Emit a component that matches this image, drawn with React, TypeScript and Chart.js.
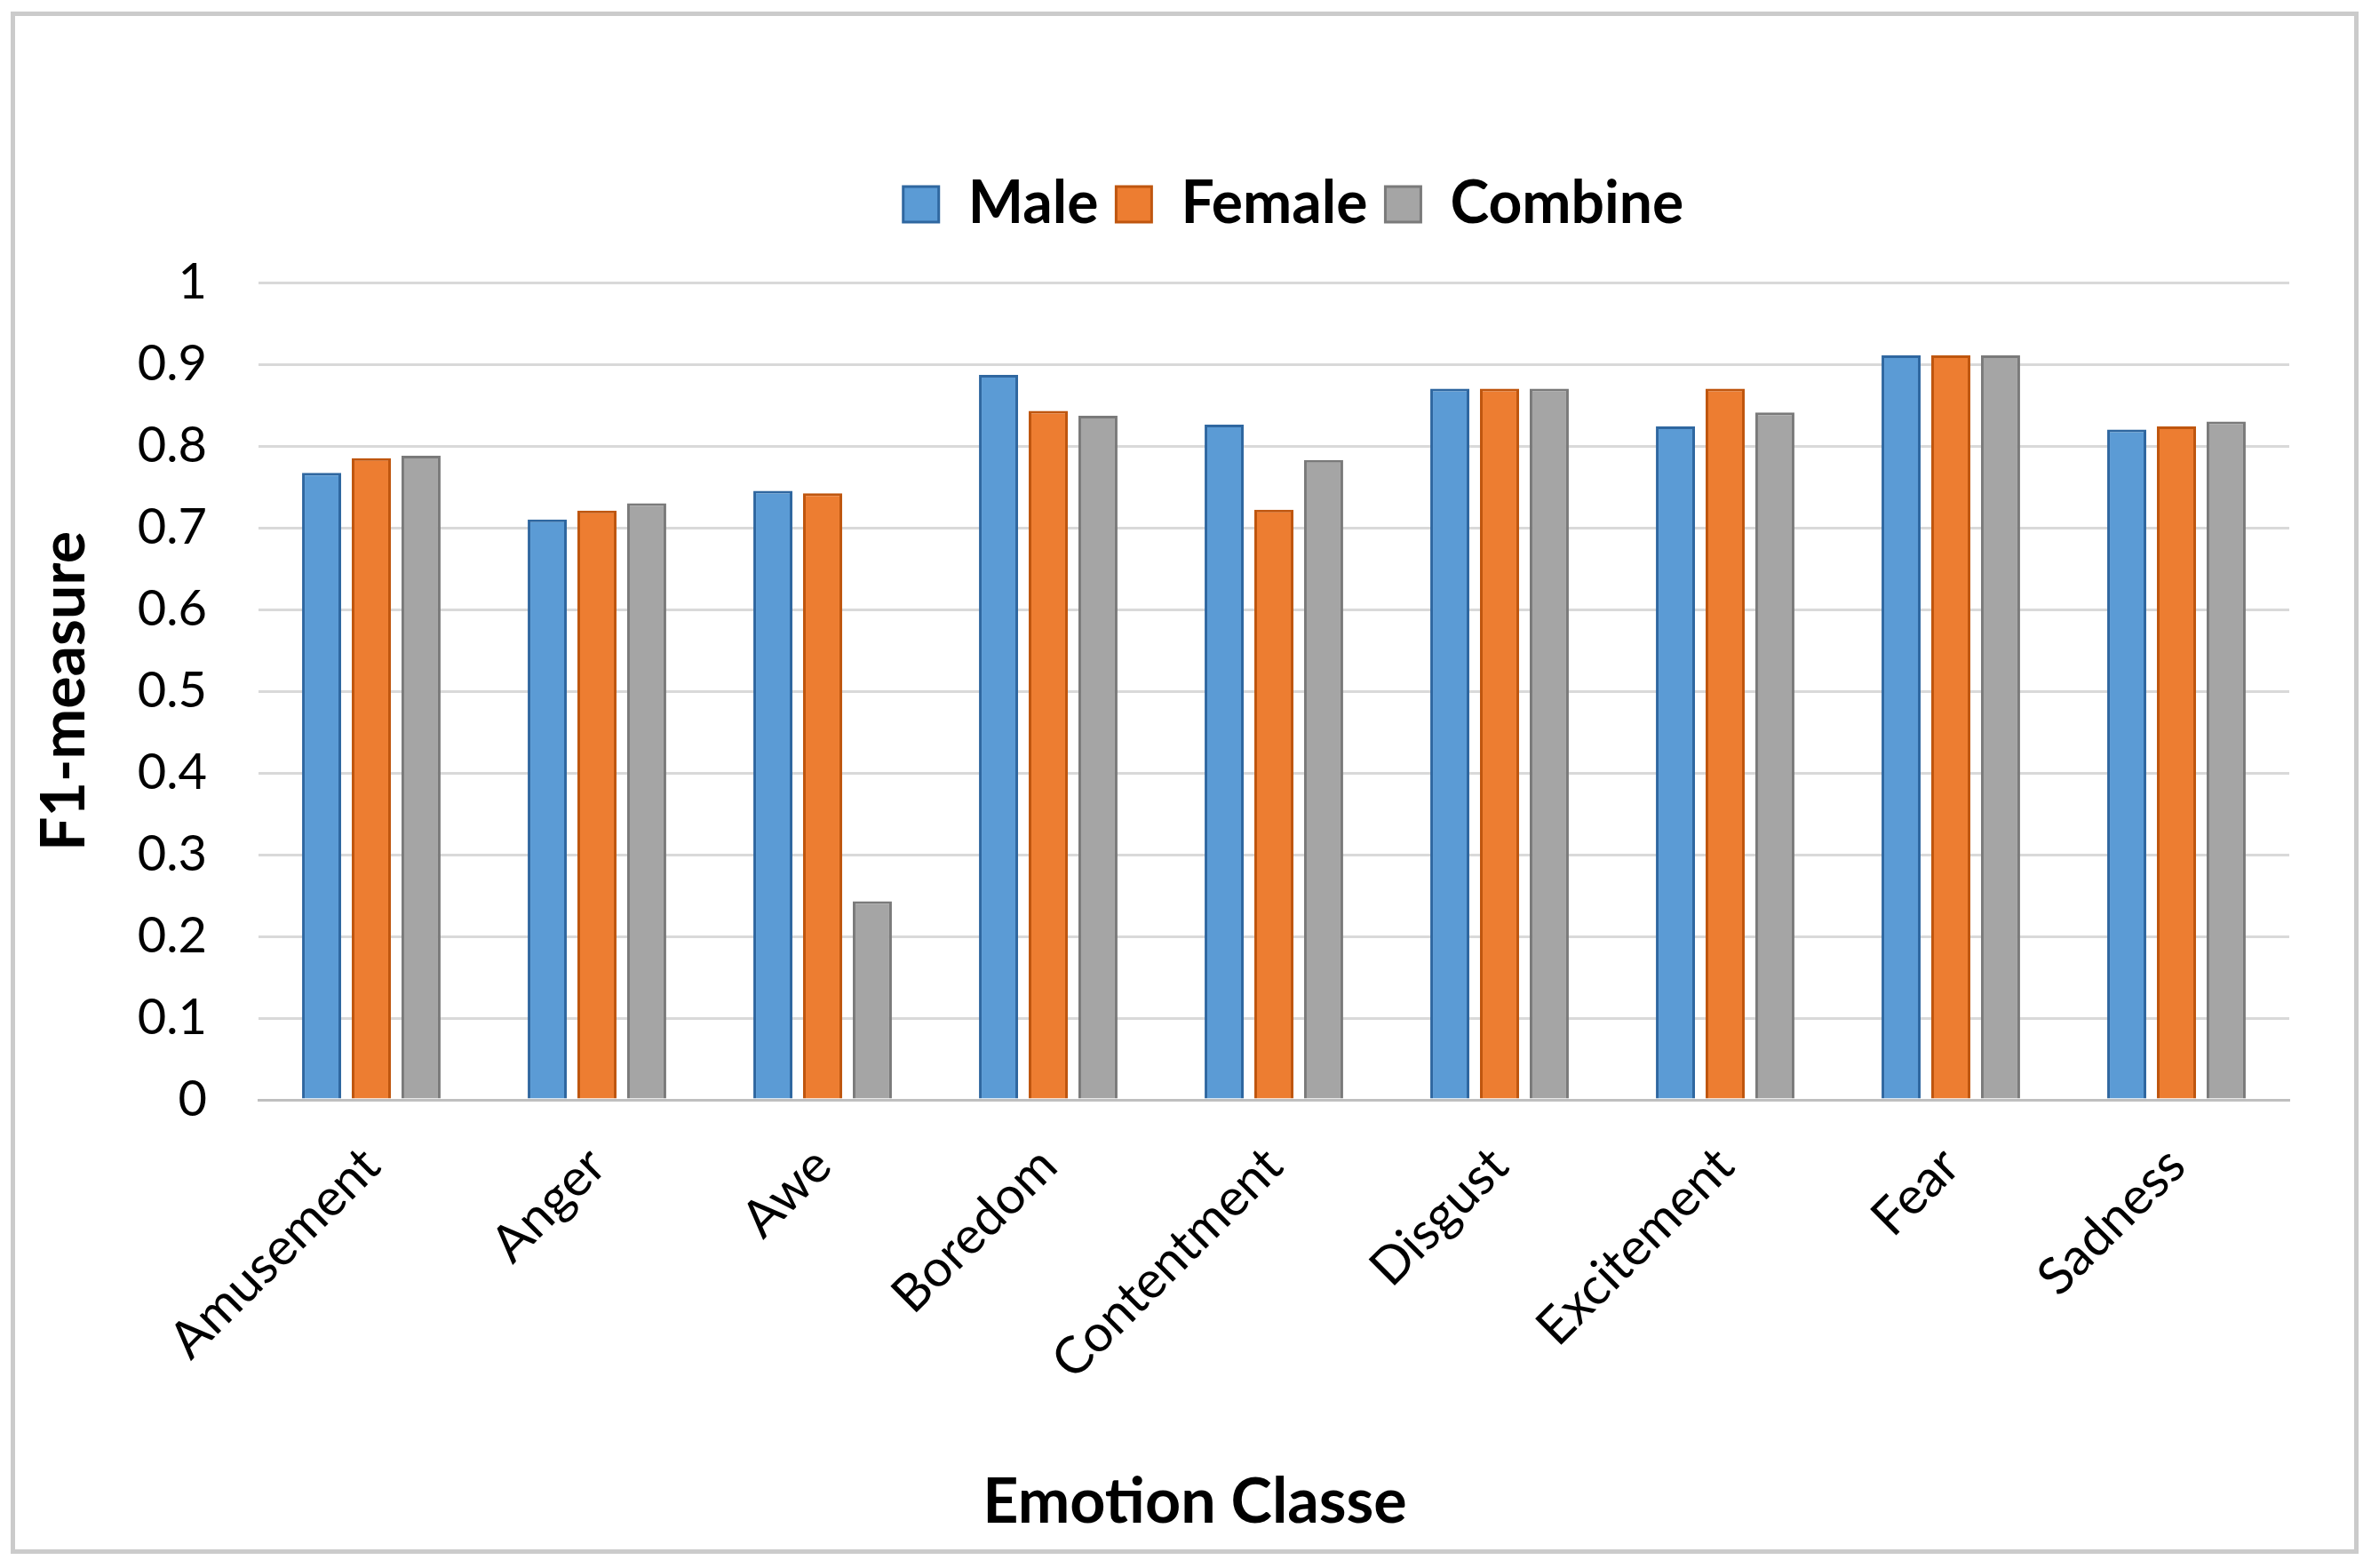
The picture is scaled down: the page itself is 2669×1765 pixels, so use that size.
import React, { useEffect, useRef } from "react";
import { Chart, registerables } from "chart.js";

Chart.register(...registerables);

const categories = ["Amusement", "Anger", "Awe", "Boredom", "Contentment", "Disgust", "Excitement", "Fear", "Sadness"];
const maleValues = [0.767, 0.710, 0.745, 0.887, 0.826, 0.870, 0.824, 0.911, 0.820];
const femaleValues = [0.785, 0.721, 0.742, 0.843, 0.722, 0.870, 0.870, 0.911, 0.824];
const combineValues = [0.788, 0.730, 0.243, 0.837, 0.783, 0.870, 0.841, 0.911, 0.830];
const seriesNames = ["Male", "Female", "Combine"];
const yTickLabels = ["0", "0.1", "0.2", "0.3", "0.4", "0.5", "0.6", "0.7", "0.8", "0.9", "1"];
const xAxisTitle = "Emotion Classe";
const yAxisTitle = "F1-measure";

const W = 2669;
const H = 1765;

const framePlugin = {
  id: "frame",
  beforeDraw(chart: any) {
    const ctx = chart.ctx;
    ctx.save();
    ctx.fillStyle = "#ffffff";
    ctx.fillRect(0, 0, chart.width, chart.height);
    ctx.strokeStyle = "#CBCBCB";
    ctx.lineWidth = 5;
    ctx.strokeRect(14.5, 15.5, 2638, 1731);
    ctx.restore();
  },
  afterLayout(chart: any) {
    const lg = chart.legend;
    if (lg) {
      const dx = 1456 - (lg.left + lg.right) / 2;
      lg.left += dx;
      lg.right += dx;
      lg.top += -45;
      lg.bottom += -45;
    }
    const tb = chart.titleBlock;
    if (tb) {
      const dx2 = 1345 - (tb.left + tb.right) / 2;
      tb.left += dx2;
      tb.right += dx2;
    }
  },
};

export default function App() {
  const ref = useRef<HTMLCanvasElement | null>(null);
  useEffect(() => {
    if (!ref.current) return;
    const chart = new Chart(ref.current, {
      type: "bar",
      data: {
        labels: categories,
        datasets: [
          {
            label: seriesNames[0],
            data: maleValues,
            backgroundColor: "#5B9BD5",
            borderColor: "#2F67A0",
            borderWidth: 3,
          },
          {
            label: seriesNames[1],
            data: femaleValues,
            backgroundColor: "#ED7D31",
            borderColor: "#BF560F",
            borderWidth: 3,
          },
          {
            label: seriesNames[2],
            data: combineValues,
            backgroundColor: "#A5A5A5",
            borderColor: "#7A7A7A",
            borderWidth: 3,
          },
        ],
      },
      options: {
        responsive: false,
        animation: false,
        devicePixelRatio: 1,
        layout: { padding: { top: 222, left: 20, right: 92, bottom: 32 } },
        datasets: {
          bar: { categoryPercentage: 0.661, barPercentage: 0.786 },
        },
        plugins: {
          legend: {
            position: "top",
            labels: {
              boxWidth: 40,
              boxHeight: 40,
              padding: 20,
              color: "#000",
              font: { family: "Lato", weight: "bold", size: 66 },
            },
          },
          title: {
            display: true,
            position: "bottom",
            text: xAxisTitle,
            color: "#000",
            padding: { top: 0, bottom: 0 },
            font: { family: "Lato", weight: "bold", size: 70, lineHeight: 1.2 },
          },
          tooltip: { enabled: false },
        },
        scales: {
          x: {
            grid: { display: false, drawTicks: false },
            border: { display: true, color: "#BFBFBF", width: 3 },
            ticks: {
              minRotation: 45,
              maxRotation: 45,
              padding: 40,
              color: "#000",
              font: { family: "Lato", size: 58 },
            },
            afterFit(scale: any) {
              scale.height = 411;
            },
          },
          y: {
            min: 0,
            max: 1,
            grid: { color: "#D9D9D9", lineWidth: 3, drawTicks: false },
            border: { display: false },
            ticks: {
              stepSize: 0.1,
              padding: 58,
              color: "#000",
              font: { family: "Lato", size: 56 },
              callback: (_v: any, i: number) => yTickLabels[i],
            },
            title: {
              display: true,
              text: yAxisTitle,
              color: "#000",
              padding: { top: 12, bottom: 0 },
              font: { family: "Lato", weight: "bold", size: 68, lineHeight: 1.2 },
            },
            afterFit(scale: any) {
              scale.width = 271;
            },
          },
        },
      },
      plugins: [framePlugin],
    } as any);
    return () => chart.destroy();
  }, []);
  return (
    <div style={{ position: "fixed", left: 0, top: 0, width: W, height: H, background: "#fff" }}>
      <canvas ref={ref} width={W} height={H} style={{ width: W, height: H, display: "block" }} />
    </div>
  );
}
